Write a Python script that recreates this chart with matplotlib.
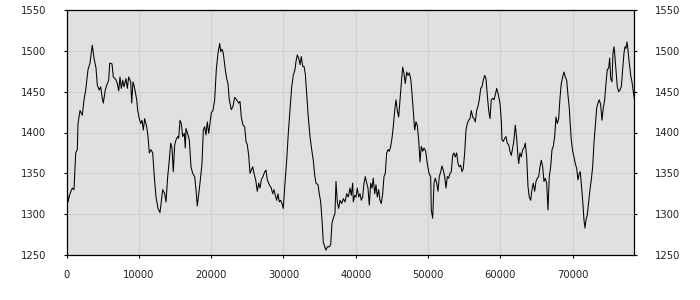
import matplotlib
matplotlib.use("Agg")
import matplotlib.pyplot as plt

x_values = [30, 207, 484, 802, 1037, 1272, 1494, 1590, 1867, 2185, 2420, 2655, 2973, 3250, 3568, 3803, 4080, 4260, 4536, 4730,
            4910, 5089, 5366, 5560, 5836, 5975, 6293, 6472, 6804, 7026, 7219, 7399, 7579, 7772, 7952, 8229, 8409, 8602, 8879, 9017,
            9197, 9432, 9709, 9847, 10068, 10262, 10442, 10621, 10815, 11092, 11271, 11451, 11686, 11921, 12143, 12378, 12654, 12931, 13111, 13304,
            13581, 13761, 13996, 14217, 14411, 14591, 14770, 14964, 15144, 15379, 15517, 15697, 15877, 16070, 16292, 16430, 16527, 16804, 16983, 17218,
            17453, 17730, 17910, 18090, 18283, 18463, 18740, 18920, 19113, 19293, 19473, 19666, 20026, 20261, 20496, 20717, 20952, 21187, 21326, 21506,
            21685, 21962, 22156, 22335, 22515, 22792, 23027, 23262, 23539, 23815, 23995, 24175, 24410, 24645, 24825, 25005, 25198, 25378, 25558, 25752,
            25931, 26166, 26388, 26582, 26761, 26941, 27176, 27411, 27591, 27771, 28048, 28324, 28518, 28698, 28877, 29071, 29250, 29430, 29624, 29803,
            29983, 30218, 30453, 30675, 30910, 31145, 31366, 31602, 31740, 31920, 32113, 32293, 32473, 32666, 32846, 33026, 33220, 33441, 33676, 33911,
            34132, 34326, 34506, 34782, 34962, 35156, 35336, 35515, 35709, 35889, 36069, 36346, 36539, 36719, 36899, 37134, 37272, 37452, 37646, 37825,
            38060, 38281, 38517, 38752, 38973, 39208, 39388, 39582, 39665, 39859, 40039, 40218, 40412, 40591, 40771, 40965, 41144, 41324, 41518, 41697,
            41877, 42071, 42250, 42430, 42624, 42804, 42983, 43177, 43357, 43536, 43730, 43910, 44090, 44283, 44463, 44643, 44837, 45017, 45196, 45390,
            45570, 45749, 45943, 46123, 46303, 46496, 46676, 46856, 47050, 47229, 47409, 47603, 47783, 47962, 48156, 48336, 48516, 48709, 48889, 49069,
            49263, 49442, 49677, 49899, 50134, 50369, 50452, 50646, 50826, 51005, 51199, 51379, 51558, 51752, 51932, 52111, 52305, 52485, 52665, 52858,
            53038, 53218, 53411, 53591, 53771, 53965, 54145, 54324, 54518, 54698, 54877, 55071, 55251, 55431, 55624, 55804, 55984, 56177, 56357, 56537,
            56731, 56910, 57090, 57284, 57464, 57643, 57837, 58017, 58196, 58390, 58570, 58750, 58943, 59123, 59303, 59497, 59676, 59953, 60133, 60229,
            60409, 60603, 60783, 60962, 61156, 61336, 61516, 61709, 61889, 62069, 62262, 62442, 62539, 62719, 62898, 63092, 63272, 63452, 63646, 63825,
            64005, 64199, 64379, 64558, 64752, 64932, 65111, 65305, 65485, 65665, 65858, 66038, 66218, 66412, 66591, 66771, 66965, 67145, 67324, 67518,
            67698, 67878, 68071, 68251, 68431, 68624, 68804, 68984, 69178, 69357, 69537, 69634, 69814, 70007, 70187, 70367, 70561, 70740, 70920, 71059,
            71197, 71390, 71570, 71709, 71847, 72027, 72220, 72400, 72580, 72774, 72953, 73133, 73327, 73507, 73686, 73880, 74060, 74240, 74433, 74613,
            74793, 74986, 75125, 75263, 75443, 75581, 75719, 75816, 75996, 76176, 76369, 76549, 76729, 76922, 77102, 77241, 77379, 77518, 77656, 77836,
            78030, 78209, 78389, 78527]

y_values = [1342, 1315, 1325, 1332, 1330, 1375, 1379, 1411, 1427, 1421, 1440, 1452, 1477, 1485, 1507, 1491, 1479, 1458, 1452, 1456,
            1444, 1436, 1452, 1458, 1464, 1485, 1484, 1468, 1465, 1460, 1451, 1468, 1454, 1464, 1456, 1466, 1454, 1468, 1462, 1436,
            1462, 1454, 1440, 1427, 1417, 1411, 1415, 1403, 1417, 1407, 1395, 1375, 1379, 1375, 1346, 1321, 1307, 1302, 1315, 1330,
            1325, 1315, 1346, 1366, 1387, 1381, 1352, 1385, 1391, 1395, 1393, 1415, 1411, 1395, 1399, 1381, 1405, 1397, 1391, 1358,
            1350, 1346, 1330, 1310, 1325, 1338, 1362, 1403, 1407, 1397, 1413, 1399, 1424, 1427, 1440, 1477, 1497, 1509, 1499, 1502,
            1497, 1477, 1466, 1460, 1440, 1428, 1432, 1443, 1440, 1436, 1438, 1419, 1409, 1407, 1389, 1385, 1372, 1350, 1354, 1358,
            1350, 1342, 1328, 1338, 1332, 1342, 1346, 1352, 1354, 1342, 1336, 1332, 1325, 1330, 1323, 1317, 1325, 1315, 1317, 1313,
            1307, 1338, 1366, 1399, 1427, 1456, 1470, 1477, 1487, 1495, 1491, 1483, 1493, 1481, 1481, 1472, 1448, 1419, 1395, 1379,
            1366, 1348, 1338, 1336, 1325, 1315, 1293, 1266, 1260, 1256, 1260, 1260, 1263, 1289, 1295, 1301, 1340, 1315, 1307, 1317,
            1313, 1319, 1315, 1325, 1321, 1332, 1323, 1338, 1315, 1323, 1321, 1332, 1321, 1325, 1317, 1321, 1338, 1346, 1338, 1332,
            1311, 1338, 1332, 1344, 1325, 1336, 1321, 1330, 1317, 1313, 1325, 1346, 1350, 1375, 1379, 1377, 1383, 1393, 1407, 1427,
            1440, 1427, 1419, 1440, 1460, 1480, 1472, 1460, 1474, 1470, 1473, 1466, 1448, 1427, 1403, 1413, 1409, 1391, 1364, 1383,
            1377, 1381, 1377, 1362, 1350, 1346, 1305, 1295, 1338, 1344, 1338, 1328, 1346, 1352, 1359, 1354, 1346, 1332, 1346, 1344,
            1350, 1352, 1372, 1375, 1370, 1375, 1362, 1358, 1360, 1352, 1356, 1375, 1403, 1411, 1415, 1417, 1427, 1419, 1417, 1413,
            1427, 1432, 1440, 1454, 1456, 1464, 1470, 1466, 1446, 1427, 1417, 1440, 1442, 1440, 1446, 1454, 1448, 1436, 1415, 1391,
            1389, 1393, 1395, 1387, 1385, 1377, 1372, 1381, 1391, 1409, 1393, 1370, 1362, 1375, 1370, 1379, 1381, 1387, 1370, 1334,
            1321, 1317, 1330, 1338, 1328, 1340, 1344, 1346, 1358, 1366, 1358, 1340, 1344, 1338, 1305, 1346, 1358, 1379, 1383, 1395,
            1419, 1411, 1417, 1442, 1460, 1468, 1474, 1468, 1464, 1446, 1430, 1415, 1391, 1377, 1370, 1362, 1356, 1342, 1350, 1352,
            1338, 1317, 1293, 1283, 1293, 1299, 1315, 1330, 1342, 1358, 1387, 1407, 1430, 1436, 1440, 1434, 1415, 1430, 1440, 1460,
            1477, 1479, 1491, 1466, 1462, 1497, 1505, 1497, 1477, 1456, 1450, 1452, 1456, 1477, 1497, 1505, 1503, 1511, 1501, 1485,
            1470, 1462, 1450, 1442]

x_ticks = [0, 10000, 20000, 30000, 40000, 50000, 60000, 70000]
y_ticks = [1250, 1300, 1350, 1400, 1450, 1500, 1550]
x_limits = (0, 78530)
y_limits = (1250, 1550)

fig = plt.figure(figsize=(7, 3), dpi=100)
ax = fig.add_axes([66.5 / 700, 45 / 300, (634.3 - 66.5) / 700, 245 / 300])
ax.set_facecolor("#e0e0e0")
ax.plot(x_values, y_values, color="black", linewidth=0.75, zorder=3)

ax.set_xlim(*x_limits)
ax.set_ylim(*y_limits)
ax.set_xticks(x_ticks)
ax.set_yticks(y_ticks)
ax.set_xticklabels([str(t) for t in x_ticks])
ax.set_yticklabels([str(t) for t in y_ticks])
ax.grid(True, color="#d0d0d0", linewidth=0.8, zorder=0)
ax.set_axisbelow(True)

for s in ax.spines.values():
    s.set_color("black")
    s.set_linewidth(0.9)

ax.tick_params(axis="both", direction="out", length=2.5, width=0.8, color="black",
               labelsize=7.2, labelcolor="#222222")
ax.tick_params(axis="y", left=True, right=True, labelleft=True, labelright=True, pad=12)
ax.tick_params(axis="x", pad=8)

fig.savefig("out.png", dpi=100, facecolor="white")
